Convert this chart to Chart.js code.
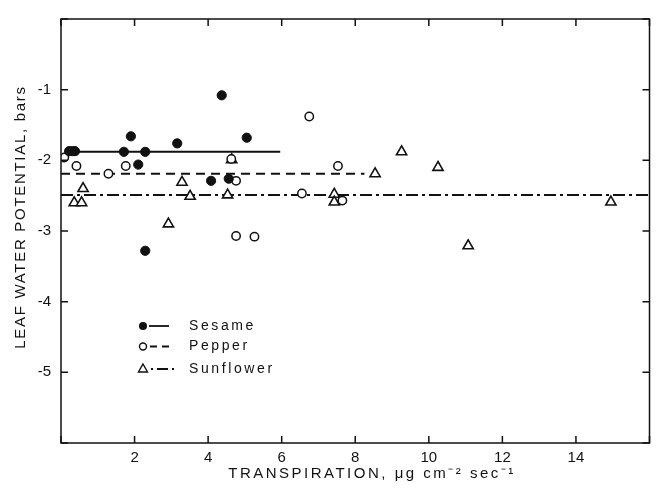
<!DOCTYPE html>
<html>
<head>
<meta charset="utf-8">
<script src="https://cdn.jsdelivr.net/npm/chart.js@4.4.0/dist/chart.umd.min.js"></script>
<style>
html, body { margin: 0; padding: 0; background: #fff; }
</style>
</head>
<body>
<canvas id="chart" width="657" height="489"></canvas>
<script>
// observed points (transpiration, leaf water potential)
var sesameX = [0.22, 0.31, 0.38, 1.71, 1.90, 2.10, 2.29, 2.29, 3.16, 4.08, 4.37, 4.56, 5.05];
var sesameY = [-1.87, -1.87, -1.87, -1.88, -1.66, -2.06, -1.88, -3.28, -1.76, -2.29, -1.08, -2.26, -1.68];

var pepperX = [0.09, 0.42, 1.29, 1.76, 4.63, 4.76, 4.76, 5.26, 6.55, 6.75, 7.53, 7.65];
var pepperY = [-1.96, -2.08, -2.19, -2.08, -1.98, -2.29, -3.07, -3.08, -2.47, -1.38, -2.08, -2.57];

var sunflowerX = [0.36, 0.56, 0.60, 2.92, 3.29, 3.51, 4.53, 4.64, 7.43, 7.43, 8.54, 9.26, 10.25, 11.07, 14.95];
var sunflowerY = [-2.60, -2.60, -2.40, -2.90, -2.31, -2.51, -2.49, -1.99, -2.48, -2.59, -2.19, -1.88, -2.10, -3.21, -2.59];

// mean lines: [start x, end x], level
var sesameMeanX = [0.3, 5.96];
var sesameMean = -1.88;
var pepperMeanX = [0, 8.25];
var pepperMean = -2.19;
var sunflowerMeanX = [0, 16];
var sunflowerMean = -2.49;

var seriesNames = ['Sesame', 'Pepper', 'Sunflower'];
var xTickValues = [2, 4, 6, 8, 10, 12, 14];
var yTickValues = [-1, -2, -3, -4, -5];

var INK = '#111';
var FONT = '"Liberation Sans", Arial, sans-serif';

function pts(xs, ys) {
    return xs.map(function(x, i) {
        return {x: x, y: ys[i]};
    });
}

function meanLine(xs, level) {
    return xs.map(function(x) {
        return {x: x, y: level};
    });
}

var dashes = {
    Sesame: [],
    Pepper: [9, 6],
    Sunflower: [12, 4, 3, 4]
};

/**
 * Box around the plot with inward ticks on all sides.
 */
var framePlugin = {
    id: 'frame',
    afterDraw: function(chart) {
        var ctx = chart.ctx;
        var a = chart.chartArea;
        var xs = chart.scales.x;
        var ys = chart.scales.y;
        ctx.save();
        ctx.strokeStyle = INK;
        ctx.lineWidth = 1.5;
        ctx.strokeRect(a.left, a.top, a.right - a.left, a.bottom - a.top);
        ctx.beginPath();
        xs.ticks.forEach(function(t) {
            var px = xs.getPixelForValue(t.value);
            ctx.moveTo(px, a.bottom);
            ctx.lineTo(px, a.bottom - 7);
            ctx.moveTo(px, a.top);
            ctx.lineTo(px, a.top + 7);
        });
        ys.ticks.forEach(function(t) {
            var py = ys.getPixelForValue(t.value);
            ctx.moveTo(a.left, py);
            ctx.lineTo(a.left + 7, py);
            ctx.moveTo(a.right, py);
            ctx.lineTo(a.right - 7, py);
        });
        ctx.stroke();
        ctx.restore();
    }
};

/**
 * Axis titles with letter spacing.
 */
var titlePlugin = {
    id: 'titles',
    afterDraw: function(chart) {
        var ctx = chart.ctx;
        ctx.save();
        ctx.fillStyle = INK;
        ctx.font = '15px ' + FONT;
        ctx.letterSpacing = '2.5px';
        ctx.textAlign = 'center';
        ctx.textBaseline = 'middle';
        ctx.fillText('TRANSPIRATION, \u03bcg cm\u207b\u00b2 sec\u207b\u00b9', 372, 474);
        ctx.letterSpacing = '1.7px';
        ctx.translate(21, 217);
        ctx.rotate(-Math.PI / 2);
        ctx.fillText('LEAF WATER POTENTIAL, bars', 0, 0);
        ctx.restore();
    }
};

/**
 * Legend: marker, line sample, name.
 */
var legendPlugin = {
    id: 'markLegend',
    afterDraw: function(chart) {
        var ctx = chart.ctx;
        var rows = [326, 346.5, 369];
        ctx.save();
        ctx.font = '14px ' + FONT;
        ctx.letterSpacing = '2.6px';
        ctx.textBaseline = 'middle';
        seriesNames.forEach(function(name, i) {
            var y = rows[i];
            ctx.strokeStyle = INK;
            ctx.fillStyle = INK;
            ctx.lineWidth = 1.4;
            ctx.setLineDash([]);
            ctx.beginPath();
            if (name === 'Sesame') {
                ctx.arc(143, y, 4, 0, Math.PI * 2);
                ctx.fill();
            } else if (name === 'Pepper') {
                ctx.arc(143, y, 3.5, 0, Math.PI * 2);
                ctx.stroke();
            } else {
                ctx.moveTo(143, y - 5);
                ctx.lineTo(147.5, y + 3);
                ctx.lineTo(138.5, y + 3);
                ctx.closePath();
                ctx.stroke();
            }
            ctx.beginPath();
            ctx.lineWidth = 1.8;
            if (name === 'Sesame') {
                ctx.moveTo(149, y);
                ctx.lineTo(169, y);
            } else if (name === 'Pepper') {
                ctx.setLineDash([7, 5]);
                ctx.moveTo(150, y);
                ctx.lineTo(170, y);
            } else {
                ctx.setLineDash([2, 4, 11, 4, 2, 4]);
                ctx.moveTo(151, y);
                ctx.lineTo(178, y);
            }
            ctx.stroke();
            ctx.setLineDash([]);
            ctx.fillText(name, 189, y);
        });
        ctx.restore();
    }
};

var ctx = document.getElementById('chart');

new Chart(ctx, {
    type: 'scatter',
    data: {
        datasets: [{
            label: 'Sesame',
            data: pts(sesameX, sesameY),
            pointStyle: 'circle',
            pointRadius: 4.6,
            backgroundColor: INK,
            borderColor: INK,
            borderWidth: 1,
            order: 1
        }, {
            label: 'Pepper',
            data: pts(pepperX, pepperY),
            pointStyle: 'circle',
            pointRadius: 4.2,
            backgroundColor: '#fff',
            borderColor: INK,
            borderWidth: 1.5,
            order: 1
        }, {
            label: 'Sunflower',
            data: pts(sunflowerX, sunflowerY),
            pointStyle: 'triangle',
            pointRadius: 5.9,
            backgroundColor: '#fff',
            borderColor: INK,
            borderWidth: 1.6,
            order: 1
        }, {
            label: 'Sesame mean',
            data: meanLine(sesameMeanX, sesameMean),
            showLine: true,
            pointRadius: 0,
            borderColor: INK,
            borderWidth: 2,
            borderDash: dashes.Sesame,
            order: 2
        }, {
            label: 'Pepper mean',
            data: meanLine(pepperMeanX, pepperMean),
            showLine: true,
            pointRadius: 0,
            borderColor: INK,
            borderWidth: 2,
            borderDash: dashes.Pepper,
            order: 2
        }, {
            label: 'Sunflower mean',
            data: meanLine(sunflowerMeanX, sunflowerMean),
            showLine: true,
            pointRadius: 0,
            borderColor: INK,
            borderWidth: 2,
            borderDash: dashes.Sunflower,
            order: 2
        }]
    },
    options: {
        responsive: false,
        animation: false,
        layout: {
            padding: {left: 0, right: 7, top: 15, bottom: 0}
        },
        scales: {
            x: {
                type: 'linear',
                min: 0,
                max: 16,
                grid: {display: false, drawTicks: false},
                border: {display: false},
                afterFit: function(s) {
                    s.height = 46;
                },
                ticks: {
                    stepSize: 2,
                    padding: 6,
                    color: INK,
                    font: {family: FONT, size: 15},
                    callback: function(v) {
                        return xTickValues.indexOf(v) >= 0 ? String(v) : '';
                    }
                }
            },
            y: {
                type: 'linear',
                min: -6,
                max: 0,
                grid: {display: false, drawTicks: false},
                border: {display: false},
                afterFit: function(s) {
                    s.width = 61;
                },
                ticks: {
                    stepSize: 1,
                    padding: 10,
                    color: INK,
                    font: {family: FONT, size: 15},
                    callback: function(v) {
                        return yTickValues.indexOf(v) >= 0 ? String(v) : '';
                    }
                }
            }
        },
        plugins: {
            legend: {display: false},
            tooltip: {enabled: false}
        }
    },
    plugins: [framePlugin, titlePlugin, legendPlugin]
});
</script>
</body>
</html>
